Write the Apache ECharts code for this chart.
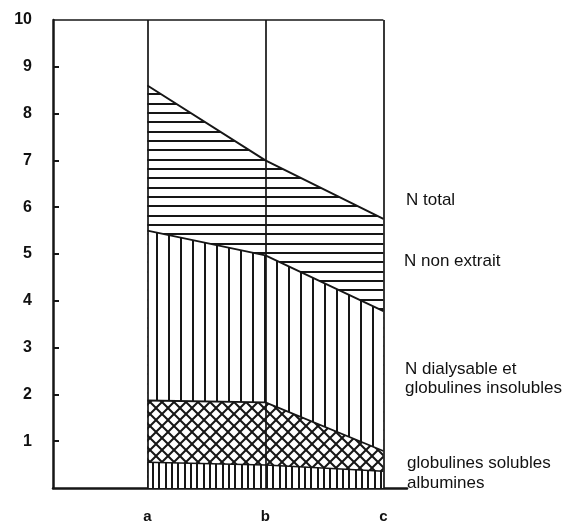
<!DOCTYPE html>
<html>
<head>
<meta charset="utf-8">
<script src="https://cdn.jsdelivr.net/npm/echarts@6/dist/echarts.min.js"></script>
<style>
html,body{margin:0;padding:0;background:#fff;}
#chart{width:564px;height:524px;}
</style>
</head>
<body>
<div id="chart"></div>
<script>
// ---- data ----
const categories = ['a', 'b', 'c'];
const xPositions = [0, 1, 2];
const nTotal = [8.6, 7.0, 5.75];
const nNonExtrait = [5.5, 4.97, 3.78];
const globulinesSolubles = [1.87, 1.83, 0.79];
const albumines = [0.55, 0.49, 0.36];
const yTickValues = [1, 2, 3, 4, 5, 6, 7, 8, 9, 10];
const seriesLabels = ['N total', 'N non extrait', 'N dialysable et\nglobulines insolubles', 'globulines solubles\nalbumines'];

// ---- hatch patterns ----
const INK = '#161616';
function makePattern(w, h, draw) {
  const c = document.createElement('canvas');
  c.width = w; c.height = h;
  const g = c.getContext('2d');
  g.fillStyle = '#fff';
  g.fillRect(0, 0, w, h);
  g.fillStyle = INK;
  g.strokeStyle = INK;
  draw(g, w, h);
  return c;
}
const hLines = makePattern(10, 28, (g, w) => {
  [0, 9, 19].forEach(y => g.fillRect(0, y, w, 2));
});
const vLines = makePattern(12, 10, (g, w, h) => {
  g.fillRect(0, 0, 2, h);
});
const crossLines = makePattern(12, 12, (g, w, h) => {
  g.lineWidth = 2;
  for (const dx of [-w, 0, w]) {
    g.beginPath(); g.moveTo(dx, 0); g.lineTo(dx + w, h); g.stroke();
    g.beginPath(); g.moveTo(dx + w, 0); g.lineTo(dx, h); g.stroke();
  }
});
const denseLines = makePattern(19, 10, (g, w, h) => {
  [0, 6, 13].forEach(x => g.fillRect(x, 0, 2, h));
});

function pts(arr) { return xPositions.map((x, i) => [x, arr[i]]); }

function areaSeries(name, arr, pattern, lw) {
  return {
    name: name,
    type: 'line',
    data: pts(arr),
    symbol: 'none',
    lineStyle: { color: INK, width: lw },
    areaStyle: { color: { image: pattern, repeat: 'repeat' }, opacity: 1 },
    silent: true,
    animation: false
  };
}

const chart = echarts.init(document.getElementById('chart'), null, { renderer: 'canvas' });
const labelStyle = { fontFamily: 'Liberation Sans, Arial, sans-serif', fontSize: 17, fill: '#111' };

const option = {
  backgroundColor: '#fff',
  animation: false,
  grid: { left: 53, top: 20, width: 354, height: 471, containLabel: false },
  xAxis: {
    type: 'value',
    min: -0.8,
    max: 2.2,
    axisLine: { show: true, onZero: false, lineStyle: { color: INK, width: 2.5 } },
    axisTick: { show: false },
    splitLine: { show: false },
    axisLabel: {
      customValues: xPositions,
      formatter: v => categories[xPositions.indexOf(Math.round(v))] || '',
      margin: 21,
      color: '#111',
      fontSize: 15,
      fontWeight: 'bold',
      fontFamily: 'Liberation Sans, Arial, sans-serif'
    }
  },
  yAxis: {
    type: 'value',
    min: 0,
    max: 10,
    interval: 1,
    axisLine: { show: true, onZero: false, lineStyle: { color: INK, width: 2.5 } },
    axisTick: { show: true, inside: true, length: 6, lineStyle: { color: INK, width: 2 }, customValues: yTickValues.slice(0, 9) },
    splitLine: { show: false },
    axisLabel: {
      customValues: yTickValues,
      margin: 21,
      color: '#111',
      fontSize: 16,
      fontWeight: 'bold',
      fontFamily: 'Liberation Sans, Arial, sans-serif',
      verticalAlign: 'middle',
      padding: [0, 0, 11, 0]
    }
  },
  series: [
    Object.assign(areaSeries(seriesLabels[0], nTotal, hLines, 2), {
      markLine: {
        symbol: 'none',
        silent: true,
        label: { show: false },
        lineStyle: { color: INK, width: 1.7, type: 'solid' },
        data: [
          ...xPositions.map(x => [{ coord: [x, 0] }, { coord: [x, 10] }]),
          [{ coord: [-0.8, 10] }, { coord: [xPositions[2], 10] }]
        ]
      }
    }),
    areaSeries(seriesLabels[1], nNonExtrait, vLines, 1.8),
    areaSeries(seriesLabels[2], globulinesSolubles, crossLines, 1.8),
    areaSeries(seriesLabels[3], albumines, denseLines, 1.5)
  ],
  graphic: [
    { type: 'text', left: 406, top: 192, style: Object.assign({ text: 'N total' }, labelStyle), silent: true },
    { type: 'text', left: 404, top: 253, style: Object.assign({ text: 'N non extrait' }, labelStyle), silent: true },
    { type: 'text', left: 405, top: 360, style: Object.assign({ text: 'N dialysable et\nglobulines insolubles', lineHeight: 19 }, labelStyle), silent: true },
    { type: 'text', left: 407, top: 453, style: Object.assign({ text: 'globulines solubles\nalbumines', lineHeight: 20 }, labelStyle), silent: true }
  ]
};
chart.setOption(option);
</script>
</body>
</html>
